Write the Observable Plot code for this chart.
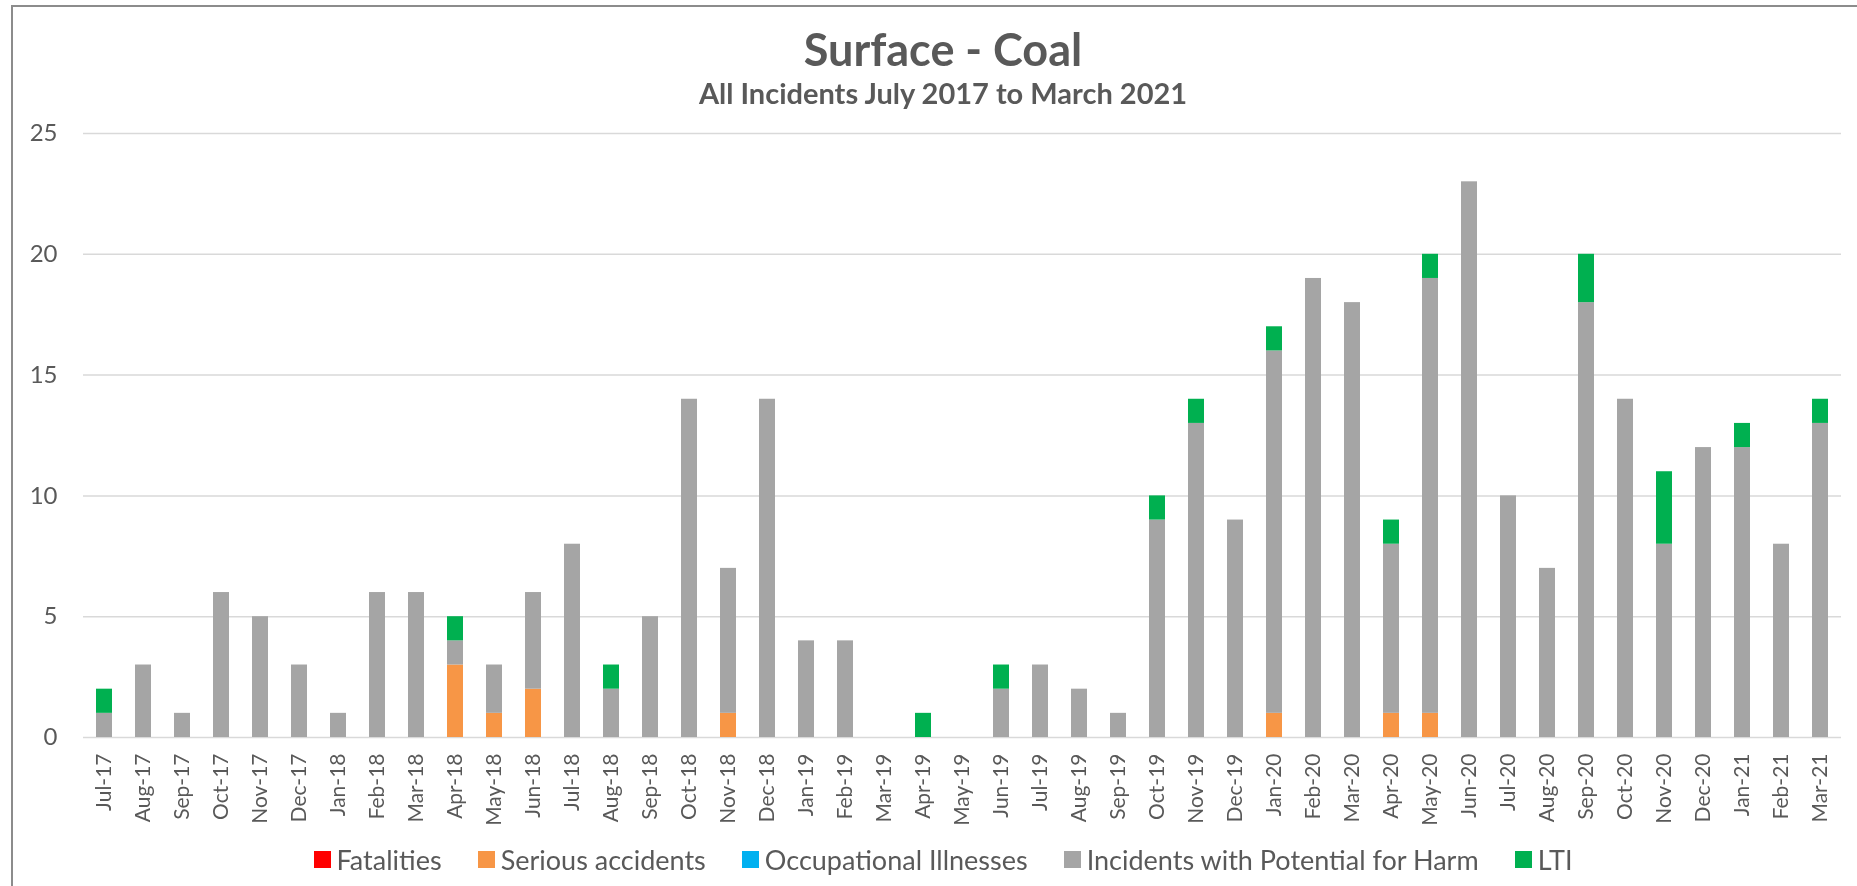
<!DOCTYPE html>
<html>
<head>
<meta charset="utf-8">
<script src="https://cdn.jsdelivr.net/npm/d3@7"></script>
<script src="https://cdn.jsdelivr.net/npm/@observablehq/plot@0.6"></script>
<style>
html,body{margin:0;padding:0;background:#fff;overflow:hidden;}
body{width:1857px;height:886px;position:relative;font-family:Lato,"Open Sans",sans-serif;color:#595959;}
#frame{position:fixed;left:11px;top:5px;right:-20px;bottom:-20px;border:2px solid #8c8c8c;pointer-events:none;}
#title{position:absolute;left:0;width:1886px;top:27px;text-align:center;font-weight:700;font-size:45px;line-height:45px;white-space:nowrap;}
#subtitle{position:absolute;left:0;width:1886px;top:78px;text-align:center;font-weight:700;font-size:29px;line-height:29px;white-space:nowrap;}
#chart{position:absolute;left:0;top:110px;}
#legend{position:absolute;left:0;width:1886px;top:846px;display:flex;justify-content:center;align-items:center;font-size:27px;line-height:27px;white-space:nowrap;}
.item{display:flex;align-items:center;margin:0 18px;}
.sw{width:17px;height:17px;margin-right:6px;display:inline-block;}
</style>
</head>
<body>
<div id="frame"></div>
<div id="title">Surface - Coal</div>
<div id="subtitle">All Incidents July 2017 to March 2021</div>
<div id="chart"></div>
<div id="legend"></div>
<script>
const months = ["Jul-17","Aug-17","Sep-17","Oct-17","Nov-17","Dec-17",
  "Jan-18","Feb-18","Mar-18","Apr-18","May-18","Jun-18","Jul-18","Aug-18","Sep-18","Oct-18","Nov-18","Dec-18",
  "Jan-19","Feb-19","Mar-19","Apr-19","May-19","Jun-19","Jul-19","Aug-19","Sep-19","Oct-19","Nov-19","Dec-19",
  "Jan-20","Feb-20","Mar-20","Apr-20","May-20","Jun-20","Jul-20","Aug-20","Sep-20","Oct-20","Nov-20","Dec-20",
  "Jan-21","Feb-21","Mar-21"];

const seriesNames = ["Fatalities","Serious accidents","Occupational Illnesses","Incidents with Potential for Harm","LTI"];
const seriesColors = ["#FF0000","#F79646","#00B0F0","#A5A5A5","#00B050"];

const fatalities = [0,0,0,0,0,0, 0,0,0,0,0,0,0,0,0,0,0,0, 0,0,0,0,0,0,0,0,0,0,0,0, 0,0,0,0,0,0,0,0,0,0,0,0, 0,0,0];
const seriousAccidents = [0,0,0,0,0,0, 0,0,0,3,1,2,0,0,0,0,1,0, 0,0,0,0,0,0,0,0,0,0,0,0, 1,0,0,1,1,0,0,0,0,0,0,0, 0,0,0];
const occupationalIllnesses = [0,0,0,0,0,0, 0,0,0,0,0,0,0,0,0,0,0,0, 0,0,0,0,0,0,0,0,0,0,0,0, 0,0,0,0,0,0,0,0,0,0,0,0, 0,0,0];
const potentialHarm = [1,3,1,6,5,3, 1,6,6,1,2,4,8,2,5,14,6,14, 4,4,0,0,0,2,3,2,1,9,13,9, 15,19,18,7,18,23,10,7,18,14,8,12, 12,8,13];
const lti = [1,0,0,0,0,0, 0,0,0,1,0,0,0,1,0,0,0,0, 0,0,0,1,0,1,0,0,0,1,1,0, 1,0,0,1,1,0,0,0,2,0,3,0, 1,0,1];

const yTicks = [0,5,10,15,20,25];

const seriesValues = [fatalities, seriousAccidents, occupationalIllnesses, potentialHarm, lti];
const data = [];
seriesNames.forEach((s, si) => {
  months.forEach((m, mi) => data.push({month: m, series: s, value: seriesValues[si][mi]}));
});

const chart = Plot.plot({
  width: 1857,
  height: 720,
  marginTop: 23,
  marginBottom: 93,
  marginLeft: 83,
  marginRight: 16,
  style: {fontFamily: "Lato, 'Open Sans', sans-serif", color: "#595959", background: "transparent"},
  x: {domain: months, paddingInner: 0.6, paddingOuter: 0.3, label: null},
  y: {domain: [0, 25], label: null},
  color: {domain: seriesNames, range: seriesColors},
  marks: [
    Plot.gridY(yTicks, {stroke: "#d9d9d9", strokeOpacity: 1, strokeWidth: 1.5}),
    Plot.barY(data, {x: "month", y: "value", fill: "series", order: seriesNames}),
    Plot.axisY(yTicks, {tickSize: 0, tickPadding: 26, fontSize: 24}),
    Plot.axisX({tickRotate: -90, tickSize: 0, tickPadding: 16, fontSize: 21})
  ]
});
document.getElementById("chart").appendChild(chart);

const legend = document.getElementById("legend");
seriesNames.forEach((s, i) => {
  const it = document.createElement("div");
  it.className = "item";
  const sw = document.createElement("span");
  sw.className = "sw";
  sw.style.background = seriesColors[i];
  const tx = document.createElement("span");
  tx.textContent = s;
  it.appendChild(sw);
  it.appendChild(tx);
  legend.appendChild(it);
});
</script>
</body>
</html>
